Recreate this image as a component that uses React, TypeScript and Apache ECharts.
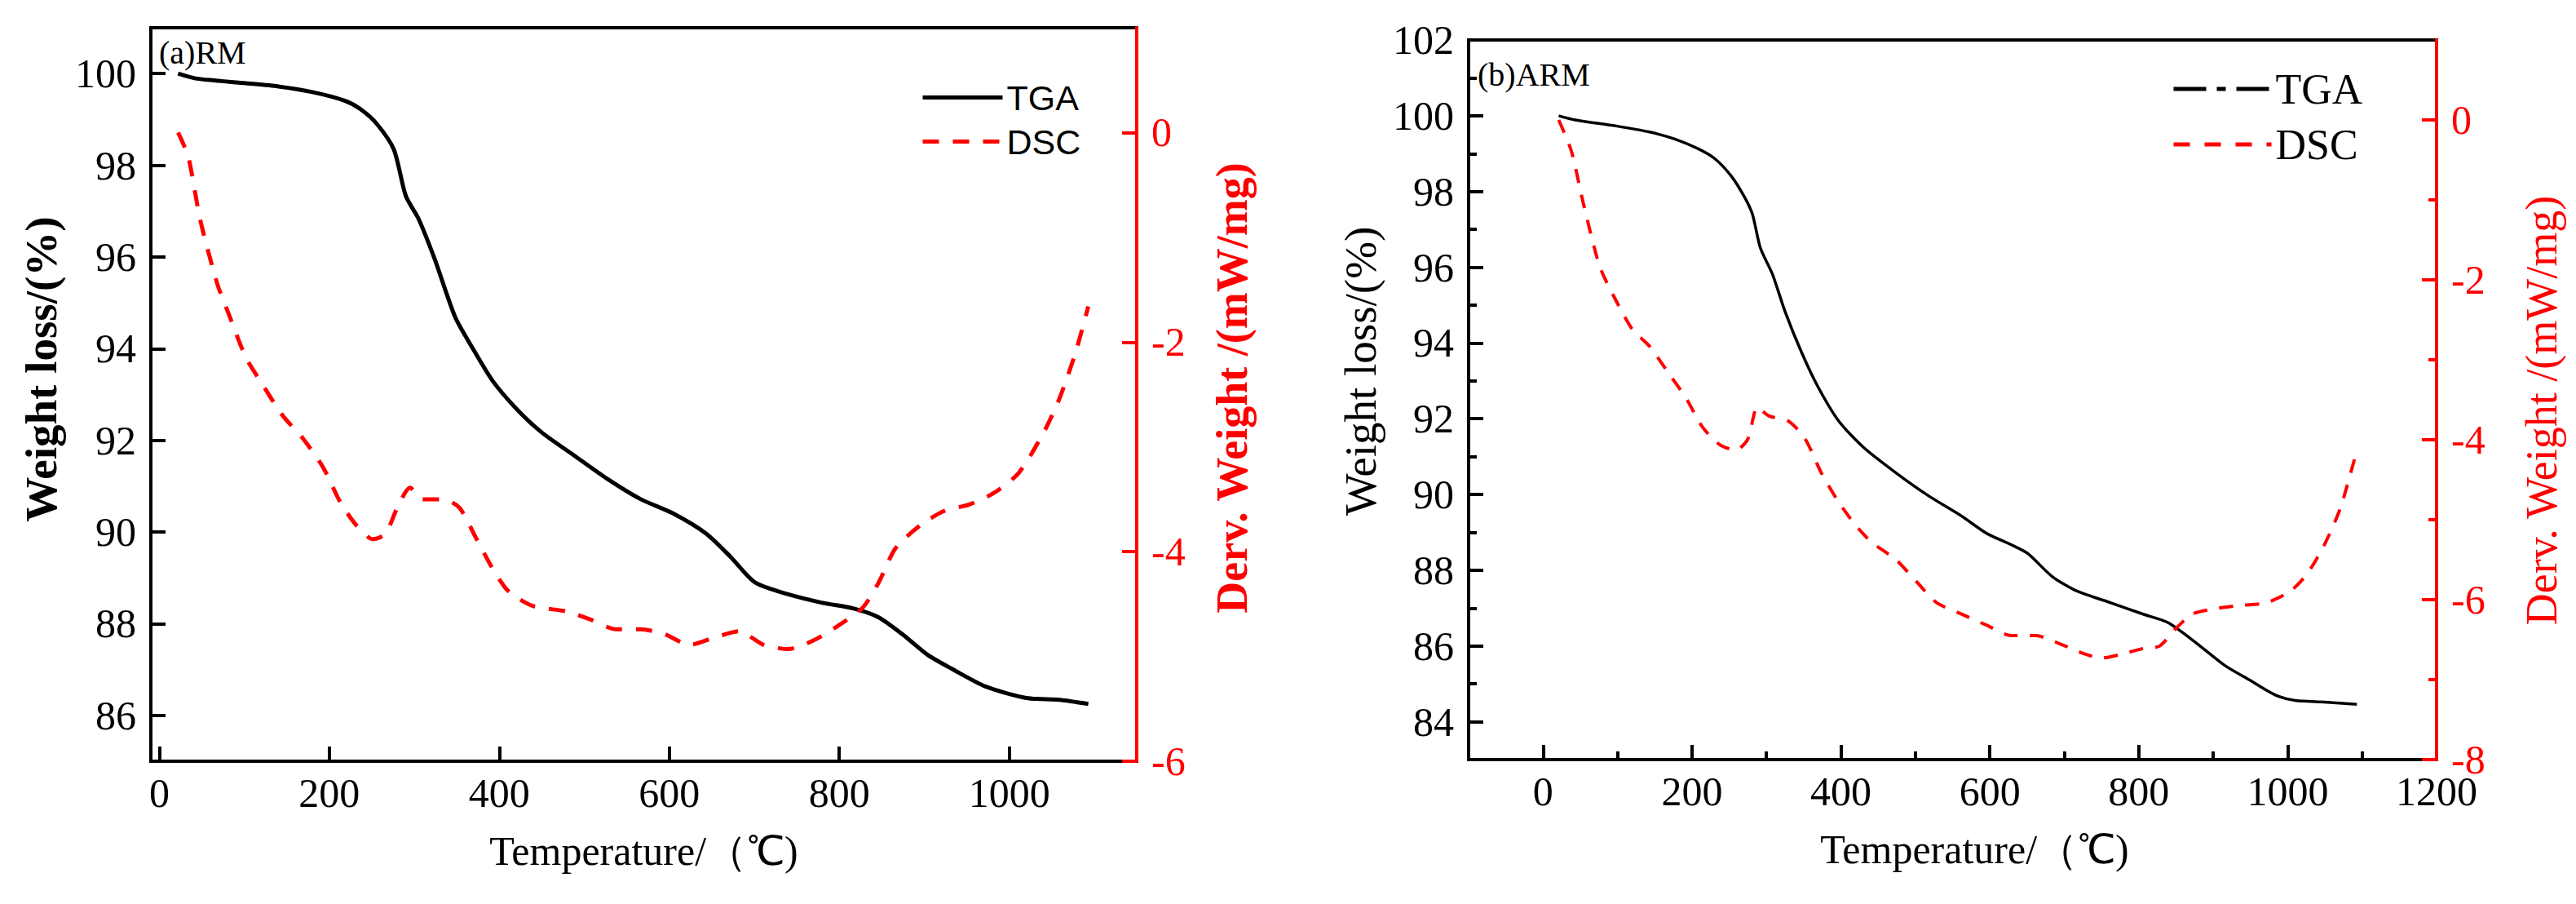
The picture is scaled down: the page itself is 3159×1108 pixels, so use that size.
import { useEffect, useRef } from 'react'
import * as echarts from 'echarts'

// (a) RM sample
const rmTgaTemp = [22, 44, 102, 140, 179, 218, 237, 256, 276, 290, 305, 324, 348, 367, 392, 421, 450, 488, 527, 566, 604, 643, 672, 701, 740, 779, 817, 846, 875, 904, 933, 972, 1020, 1059, 1093]
const rmTga = [100.0, 99.89, 99.79, 99.72, 99.6, 99.41, 99.22, 98.9, 98.34, 97.33, 96.83, 95.95, 94.69, 94.06, 93.3, 92.67, 92.17, 91.67, 91.16, 90.72, 90.41, 89.97, 89.46, 88.9, 88.64, 88.46, 88.33, 88.14, 87.76, 87.32, 87.01, 86.63, 86.38, 86.34, 86.25]
const rmDscTemp = [22, 34, 48, 68, 82, 102, 121, 145, 169, 193, 213, 232, 251, 266, 280, 295, 310, 334, 353, 372, 392, 411, 440, 479, 508, 537, 566, 595, 624, 653, 682, 711, 740, 769, 798, 827, 846, 866, 895, 924, 953, 982, 1011, 1040, 1059, 1078, 1093]
const rmDsc = [0, -0.23, -0.83, -1.44, -1.74, -2.15, -2.4, -2.7, -2.92, -3.2, -3.53, -3.75, -3.88, -3.83, -3.58, -3.39, -3.5, -3.5, -3.58, -3.86, -4.16, -4.38, -4.52, -4.57, -4.65, -4.74, -4.74, -4.79, -4.89, -4.82, -4.76, -4.89, -4.93, -4.85, -4.71, -4.54, -4.3, -3.97, -3.75, -3.61, -3.55, -3.44, -3.25, -2.87, -2.54, -2.1, -1.66]

// (b) ARM sample
const armTgaTemp = [21, 43, 98, 143, 176, 209, 231, 253, 270, 281, 292, 308, 325, 347, 369, 397, 430, 474, 518, 562, 596, 629, 651, 684, 717, 761, 806, 839, 872, 916, 949, 983, 1010, 1049, 1093]
const armTga = [100, 99.89, 99.73, 99.57, 99.39, 99.12, 98.86, 98.4, 97.87, 97.41, 96.5, 95.82, 94.83, 93.76, 92.85, 91.94, 91.25, 90.57, 89.96, 89.43, 88.97, 88.67, 88.44, 87.83, 87.45, 87.15, 86.84, 86.62, 86.16, 85.48, 85.1, 84.71, 84.56, 84.52, 84.46]
const armDscTemp = [21, 38, 54, 76, 98, 120, 143, 165, 192, 214, 237, 259, 275, 288, 303, 330, 352, 374, 397, 419, 441, 474, 502, 529, 562, 596, 629, 662, 696, 728, 750, 778, 806, 828, 850, 872, 905, 938, 971, 1004, 1026, 1049, 1071, 1093]
const armDsc = [0, -0.39, -1.04, -1.83, -2.26, -2.62, -2.83, -3.12, -3.48, -3.84, -4.06, -4.13, -3.99, -3.59, -3.7, -3.77, -3.99, -4.42, -4.78, -5.06, -5.28, -5.5, -5.78, -6.04, -6.18, -6.32, -6.45, -6.45, -6.56, -6.68, -6.73, -6.68, -6.61, -6.58, -6.36, -6.18, -6.11, -6.07, -6.04, -5.89, -5.68, -5.32, -4.85, -4.13]

// tick values
const rmTempTicks = [0, 200, 400, 600, 800, 1000]
const rmWeightTicks = [86, 88, 90, 92, 94, 96, 98, 100]
const rmDervTicks = [-6, -4, -2, 0]
const armTempTicks = [0, 200, 400, 600, 800, 1000, 1200]
const armTempMinor = [100, 300, 500, 700, 900, 1100]
const armWeightTicks = [84, 86, 88, 90, 92, 94, 96, 98, 100, 102]
const armWeightMinor = [85, 87, 89, 91, 93, 95, 97, 99, 101]
const armDervTicks = [-8, -6, -4, -2, 0]
const armDervMinor = [-7, -5, -3, -1]

const SERIF = 'Liberation Serif'
const SANS = 'Liberation Sans'
const RED = '#ff0000'

const zip = (xs: number[], ys: number[]) => xs.map((x, i) => [x, ys[i]])

function mainAxis(opts: any) {
  const color = opts.color ?? '#000'
  return {
    type: 'value',
    gridIndex: opts.grid,
    position: opts.position,
    min: opts.min,
    max: opts.max,
    name: opts.name,
    nameLocation: 'middle',
    nameGap: opts.nameGap,
    nameTextStyle: {
      fontFamily: SERIF,
      fontSize: opts.nameSize ?? 50,
      fontWeight: opts.bold ? 'bold' : 'normal',
      color,
      padding: opts.namePadding ?? 0,
    },
    axisLine: { show: true, onZero: false, lineStyle: { color, width: 4 } },
    axisTick: {
      show: true,
      inside: true,
      length: 18,
      lineStyle: { color, width: 4 },
      customValues: opts.ticks,
    },
    axisLabel: {
      show: true,
      customValues: opts.ticks,
      margin: opts.margin ?? 18,
      fontFamily: SERIF,
      fontSize: 50,
      color,
      formatter: (v: number) => String(v),
    },
    splitLine: { show: false },
    z: opts.z ?? 2,
  }
}

function minorAxis(opts: any) {
  const color = opts.color ?? '#000'
  return {
    type: 'value',
    gridIndex: opts.grid,
    position: opts.position,
    min: opts.min,
    max: opts.max,
    axisLine: { show: false, onZero: false },
    axisTick: {
      show: true,
      inside: true,
      length: 10,
      lineStyle: { color, width: 4 },
      customValues: opts.ticks,
    },
    axisLabel: { show: false },
    splitLine: { show: false },
  }
}

export default function App() {
  const chartRef = useRef<HTMLDivElement>(null)

  useEffect(() => {
    if (!chartRef.current) return
    const chart = echarts.init(chartRef.current, undefined, { renderer: 'svg' })

    chart.setOption({
      animation: false,
      backgroundColor: '#fff',
      textStyle: { fontFamily: SERIF },
      title: [
        {
          text: '(a)RM',
          left: 195,
          top: 44,
          padding: 0,
          textStyle: { fontFamily: SERIF, fontSize: 40, fontWeight: 'normal', color: '#000' },
        },
        {
          text: '(b)ARM',
          left: 1812,
          top: 71,
          padding: 0,
          textStyle: { fontFamily: SERIF, fontSize: 40, fontWeight: 'normal', color: '#000' },
        },
      ],
      grid: [
        { left: 185, top: 34, width: 1209, height: 899, show: true, borderColor: '#000', borderWidth: 4 },
        { left: 1801, top: 49, width: 1187, height: 882, show: true, borderColor: '#000', borderWidth: 4 },
      ],
      legend: [
        {
          orient: 'vertical',
          left: 1124,
          top: 93,
          itemWidth: 98,
          itemHeight: 14,
          itemGap: 11,
          data: ['TGA', 'DSC'],
          textStyle: { fontFamily: SANS, fontSize: 43, color: '#000' },
          itemStyle: { opacity: 0 },
          lineStyle: { width: 5 },
          selectedMode: false,
        },
        {
          orient: 'vertical',
          left: 2658,
          top: 78,
          itemWidth: 120,
          itemHeight: 14,
          itemGap: 16,
          data: [
            { name: 'TGA ', lineStyle: { type: [40, 13, 11, 13], width: 5, color: '#000' } },
            { name: 'DSC ', lineStyle: { type: [20, 18], width: 5 } },
          ],
          formatter: (name: string) => name.trim(),
          textStyle: { fontFamily: SERIF, fontSize: 52, color: '#000' },
          itemStyle: { opacity: 0 },
          lineStyle: { width: 5 },
          selectedMode: false,
        },
      ],
      xAxis: [
        mainAxis({
          grid: 0, position: 'bottom', min: -10, max: 1150, ticks: rmTempTicks,
          name: 'Temperature/（℃)', nameGap: 85, margin: 14,
        }),
        mainAxis({
          grid: 1, position: 'bottom', min: -100, max: 1200, ticks: armTempTicks,
          name: 'Temperature/（℃)', nameGap: 85, margin: 14, namePadding: [0, 0, 0, 54],
        }),
        minorAxis({ grid: 1, position: 'bottom', min: -100, max: 1200, ticks: armTempMinor }),
      ],
      yAxis: [
        mainAxis({
          grid: 0, position: 'left', min: 85, max: 101, ticks: rmWeightTicks,
          name: 'Weight loss/(%)', nameGap: 107, bold: true, nameSize: 55, namePadding: [0, 0, 0, 62],
        }),
        mainAxis({
          grid: 0, position: 'right', min: -6, max: 1, ticks: rmDervTicks, color: RED,
          name: 'Derv. Weight /(mW/mg)', nameGap: 90, bold: true, nameSize: 54, namePadding: [0, 0, 0, 16], z: 5,
        }),
        mainAxis({
          grid: 1, position: 'left', min: 83, max: 102, ticks: armWeightTicks,
          name: 'Weight loss/(%)', nameGap: 105, nameSize: 55, namePadding: [0, 0, 0, 70],
        }),
        minorAxis({ grid: 1, position: 'left', min: 83, max: 102, ticks: armWeightMinor }),
        mainAxis({
          grid: 1, position: 'right', min: -8, max: 1, ticks: armDervTicks, color: RED,
          name: 'Derv. Weight /(mW/mg)', nameGap: 102, nameSize: 54, namePadding: [0, 26, 0, 0], z: 5,
        }),
        minorAxis({ grid: 1, position: 'right', min: -8, max: 1, ticks: armDervMinor, color: RED }),
      ],
      series: [
        {
          name: 'TGA',
          type: 'line',
          xAxisIndex: 0,
          yAxisIndex: 0,
          data: zip(rmTgaTemp, rmTga),
          symbol: 'none',
          smooth: 0.25,
          lineStyle: { color: '#000', width: 5 },
          itemStyle: { color: '#000' },
          z: 3,
        },
        {
          name: 'DSC',
          type: 'line',
          xAxisIndex: 0,
          yAxisIndex: 1,
          data: zip(rmDscTemp, rmDsc),
          symbol: 'none',
          smooth: 0.25,
          lineStyle: { color: RED, width: 5, type: [20, 17] },
          itemStyle: { color: RED },
          z: 3,
        },
        {
          name: 'TGA ',
          type: 'line',
          xAxisIndex: 1,
          yAxisIndex: 2,
          data: zip(armTgaTemp, armTga),
          symbol: 'none',
          smooth: 0.25,
          lineStyle: { color: '#000', width: 3.5 },
          itemStyle: { color: '#000' },
          z: 3,
        },
        {
          name: 'DSC ',
          type: 'line',
          xAxisIndex: 1,
          yAxisIndex: 4,
          data: zip(armDscTemp, armDsc),
          symbol: 'none',
          smooth: 0.25,
          lineStyle: { color: RED, width: 4, type: [17, 15] },
          itemStyle: { color: RED },
          z: 3,
        },
      ],
    })

    return () => {
      chart.dispose()
    }
  }, [])

  return (
    <div
      ref={chartRef}
      style={{ position: 'fixed', left: 0, top: 0, width: '3159px', height: '1108px', background: '#fff' }}
    />
  )
}
